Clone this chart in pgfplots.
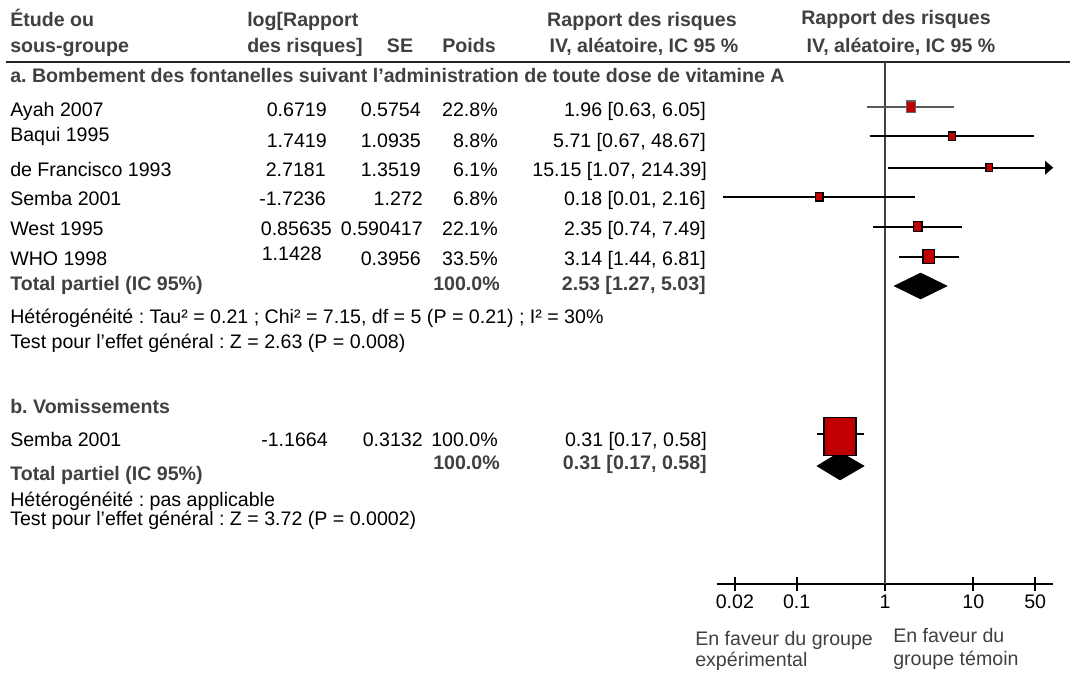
\documentclass[border=0pt]{standalone}
\usepackage{pgfplots}
\pgfplotsset{compat=1.18}
\usepackage{fontspec}
\setmainfont{Liberation Sans}
\usetikzlibrary{arrows.meta}

\definecolor{boxred}{HTML}{C00000}
\definecolor{hdr}{HTML}{404040}
\newcommand\fs{\fontsize{14.7}{17}\selectfont}
\frenchspacing

\tikzset{
  txt/.style={inner sep=0pt, font=\fs, text=black},
  L/.style={txt, anchor=base west},
  R/.style={txt, anchor=base east},
  C/.style={txt, anchor=base},
  B/.style={font=\fs\bfseries, text=hdr},
}

\begin{document}
\begin{tikzpicture}
\useasboundingbox (0pt,0pt) rectangle (806.25pt,506.25pt);

% text part, coordinates in pixels from the top left corner
\begin{scope}[x=0.75pt, y=-0.75pt, shift={(0pt,506.25pt)}]
  % header
  \node[L,B] at (10,27) {Étude ou};
  \node[L,B] at (10,53) {sous-groupe};
  \node[L,B] at (247,27) {log[Rapport};
  \node[L,B] at (247,53) {des risques]};
  \node[C,B] at (400,53) {SE};
  \node[C,B] at (469,53) {Poids};
  \node[C,B] at (642,27) {Rapport des risques};
  \node[C,B] at (644,53) {IV, aléatoire, IC 95 \%};
  \node[C,B] at (896,25) {Rapport des risques};
  \node[C,B] at (901,53) {IV, aléatoire, IC 95 \%};
  \draw[line width=1.8pt, black!85] (6,62) -- (1070,62);

  % a.
  \node[L,B] at (10,83) {a. Bombement des fontanelles suivant l’administration de toute dose de vitamine A};

  \node[L] at (10,117) {Ayah 2007};
  \node[R] at (327,117) {0.6719};
  \node[R] at (421,117) {0.5754};
  \node[R] at (498,117) {22.8\%};
  \node[R] at (706,117) {1.96 [0.63, 6.05]};

  \node[L] at (10,142) {Baqui 1995};
  \node[R] at (327,148) {1.7419};
  \node[R] at (421,148) {1.0935};
  \node[R] at (498,148) {8.8\%};
  \node[R] at (706,148) {5.71 [0.67, 48.67]};

  \node[L] at (10,177) {de Francisco 1993};
  \node[R] at (326,177) {2.7181};
  \node[R] at (421,177) {1.3519};
  \node[R] at (498,177) {6.1\%};
  \node[R] at (707,177) {15.15 [1.07, 214.39]};

  \node[L] at (10,206) {Semba 2001};
  \node[R] at (326,206) {-1.7236};
  \node[R] at (423,206) {1.272};
  \node[R] at (498,206) {6.8\%};
  \node[R] at (706,206) {0.18 [0.01, 2.16]};

  \node[L] at (10,236) {West 1995};
  \node[R] at (332,236) {0.85635};
  \node[R] at (423,236) {0.590417};
  \node[R] at (498,236) {22.1\%};
  \node[R] at (706,236) {2.35 [0.74, 7.49]};

  \node[L] at (10,266) {WHO 1998};
  \node[R] at (322,261) {1.1428};
  \node[R] at (421,266) {0.3956};
  \node[R] at (498,266) {33.5\%};
  \node[R] at (706,266) {3.14 [1.44, 6.81]};

  \node[L,B] at (10,291) {Total partiel (IC 95\%)};
  \node[R,B] at (500,291) {100.0\%};
  \node[R,B] at (706,291) {2.53 [1.27, 5.03]};

  \node[L] at (10,324) {Hétérogénéité : Tau² = 0.21 ; Chi² = 7.15, df = 5 (P = 0.21) ; I² = 30\%};
  \node[L] at (10,349) {Test pour l’effet général : Z = 2.63 (P = 0.008)};

  % b.
  \node[L,B] at (10,414) {b. Vomissements};

  \node[L] at (10,447) {Semba 2001};
  \node[R] at (328,447) {-1.1664};
  \node[R] at (423,447) {0.3132};
  \node[R] at (498,447) {100.0\%};
  \node[R] at (707,447) {0.31 [0.17, 0.58]};

  \node[L,B] at (10,481) {Total partiel (IC 95\%)};
  \node[R,B] at (500,470) {100.0\%};
  \node[R,B] at (707,470) {0.31 [0.17, 0.58]};

  \node[L] at (10,507) {Hétérogénéité : pas applicable};
  \node[L] at (10,526) {Test pour l’effet général : Z = 3.72 (P = 0.0002)};

  % under the axis
  \node[L,text=hdr] at (695,645) {En faveur du groupe};
  \node[L,text=hdr] at (695,667) {expérimental};
  \node[L,text=hdr] at (893,643) {En faveur du};
  \node[L,text=hdr] at (893,665) {groupe témoin};
\end{scope}

% forest plot: y = 675 - pixel row
\begin{axis}[
  at={(537.6pt,68.25pt)}, anchor=south west,
  scale only axis, width=252.3pt, height=391.5pt,
  xmode=log, xmin=0.0125, xmax=80, ymin=91, ymax=613,
  clip=false,
  axis x line*=bottom, axis y line=none,
  x axis line style={-, line width=1.5pt, black},
  xtick={0.02,0.1,1,10,50}, xticklabels={0.02,0.1,1,10,50},
  minor xtick={}, ytick={},
  tick align=center, major tick length=11pt,
  every tick/.style={black, line width=1.5pt},
  xticklabel style={font=\fs, text=black, anchor=base, yshift=-12.75pt},
  ci/.style={draw=black, line width=1.5pt},
  sq/.style={only marks, mark=square*,
    mark options={fill=boxred, draw=black, line width=1pt, yscale=1.2}},
]
\addplot[draw=hdr, line width=1.5pt] coordinates {(1,91) (1,613)};

% confidence intervals
\addplot[ci, draw=black!65] coordinates {(0.63,568.3) (6.05,568.3)};
\addplot[ci] coordinates {(0.67,538.7) (48.67,538.7)};
\addplot[ci, -{Triangle[length=6pt,width=10pt]}] coordinates {(1.07,507.3) (80,507.3)};
\addplot[ci] coordinates {(0.0147,478.3) (2.16,478.3)};
\addplot[ci] coordinates {(0.74,448.3) (7.49,448.3)};
\addplot[ci] coordinates {(1.44,418.3) (6.81,418.3)};
\addplot[ci] coordinates {(0.17,241) (0.58,241)};

% point estimates, size by weight
\addplot[sq, mark size=3.5pt,
  mark options={fill=boxred, draw=black!60, line width=1pt, yscale=1.2}] coordinates {(1.96,568.3)};
\addplot[sq, mark size=2.75pt] coordinates {(5.71,538.7)};
\addplot[sq, mark size=2.5pt] coordinates {(15.15,507.3)};
\addplot[sq, mark size=2.75pt] coordinates {(0.18,478.3)};
\addplot[sq, mark size=3.1pt] coordinates {(2.35,448.3)};
\addplot[sq, mark size=4.4pt] coordinates {(3.14,418.3)};
\addplot[sq, mark size=12pt] coordinates {(0.31,238.5)};

% pooled estimates
\addplot[fill=black, draw=black] coordinates {(1.27,389) (2.53,402) (5.03,389) (2.53,376) (1.27,389)};
\addplot[fill=black, draw=black] coordinates {(0.17,209) (0.31,223) (0.58,209) (0.31,195) (0.17,209)};
\end{axis}
\end{tikzpicture}
\end{document}
